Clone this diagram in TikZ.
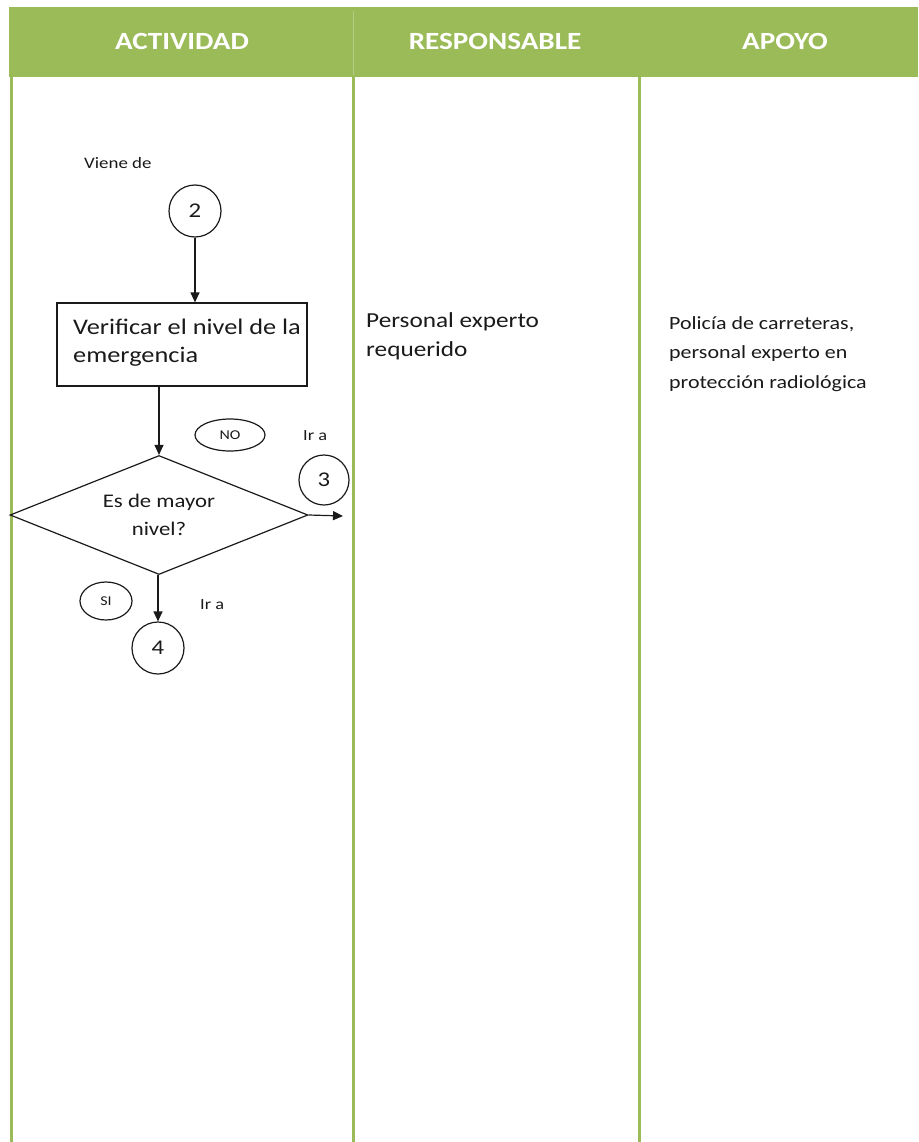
\documentclass[tikz,border=0pt]{standalone}
\usepackage{fontspec}
\setmainfont{Carlito}[FakeStretch=1.18]
\usetikzlibrary{arrows.meta,shapes.geometric}
\definecolor{hdrgreen}{HTML}{9BBB59}
\definecolor{hdrrule}{HTML}{B4CD86}
\definecolor{ink}{HTML}{1A1A1A}
\begin{document}
\begin{tikzpicture}[x=1pt,y=-1pt,
  hdrtext/.style={text=white,font=\bfseries\fontsize{24.7}{28}\selectfont,anchor=base,inner sep=0pt},
  lane/.style={draw=hdrgreen,line width=3pt},
  txt/.style={text=ink,inner sep=0pt,anchor=base west,align=left},
  stepbox/.style={draw=ink,line width=1.2pt,rectangle,minimum width=250pt,minimum height=83pt,inner sep=0pt},
  conn/.style={draw=ink,line width=1.2pt,circle,minimum size=52pt,inner sep=0pt,text=ink,font=\fontsize{21}{24}\selectfont},
  tag/.style={draw=ink,line width=1.2pt,ellipse,inner sep=0pt,text=ink,font=\fontsize{13.5}{16}\selectfont},
  decision/.style={draw=ink,line width=1.2pt,diamond,aspect=2.5,minimum width=298pt,minimum height=119pt,inner sep=0pt,text=ink,align=center,font=\fontsize{19.3}{28}\selectfont},
  flow/.style={draw=ink,line width=1.2pt,-{Triangle[length=10pt,width=9pt]}}]
\useasboundingbox (0,0) rectangle (918,1142);

% header band
\fill[hdrgreen] (9,7) rectangle (918,77);
\draw[hdrrule,line width=1pt] (353,11) -- (353,75);
\node[hdrtext] (hact) at (182,50) {ACTIVIDAD};
\node[hdrtext] (hres) at (495,50) {RESPONSABLE};
\node[hdrtext] (hapo) at (785,50) {APOYO};

% swimlane rules
\draw[lane] (11,77) -- (11,1142);
\draw[lane] (353,77) -- (353,1142);
\draw[lane] (639,77) -- (639,1142);

% activity flow (multi-line texts are placed by the baseline of their last line)
\node[txt,font=\fontsize{16}{19}\selectfont] (viene) at (84,169) {Viene de};
\node[conn] (c2) at (195,211) {2};
\node[stepbox] (verif) at (182,344.5) {};
\node[txt,font=\fontsize{22.3}{28}\selectfont] (veriftxt) at (73,362) {Verificar el nivel de la\\emergencia};
\node[decision] (dia) at (159,515) {Es de mayor\\nivel?};
\node[tag,minimum width=70pt,minimum height=32pt] (no) at (230,435) {NO};
\node[txt,font=\fontsize{15.5}{19}\selectfont] (ira3) at (303,440) {Ir a};
\node[conn,minimum size=50pt] (c3) at (324,480) {3};
\coordinate (out3) at (343,516);
\node[tag,minimum width=52pt,minimum height=38pt] (si) at (106,601) {SI};
\node[txt,font=\fontsize{15.5}{19}\selectfont] (ira4) at (200,609) {Ir a};
\node[conn] (c4) at (158,648) {4};

\draw[flow] (c2.south) -- (c2.south |- verif.north);
\draw[flow] (verif.south -| dia.north) -- (dia.north);
\draw[flow] (dia.east) -- (out3);
\draw[flow] (dia.south -| c4.north) -- (c4.north);

% responsible and support columns
\node[txt,font=\fontsize{21.4}{29}\selectfont] (resp) at (366,356) {Personal experto\\requerido};
\node[txt,font=\fontsize{18.6}{29.5}\selectfont] (apoyo) at (669,388) {Policía de carreteras,\\personal experto en\\protección radiológica};
\end{tikzpicture}
\end{document}
